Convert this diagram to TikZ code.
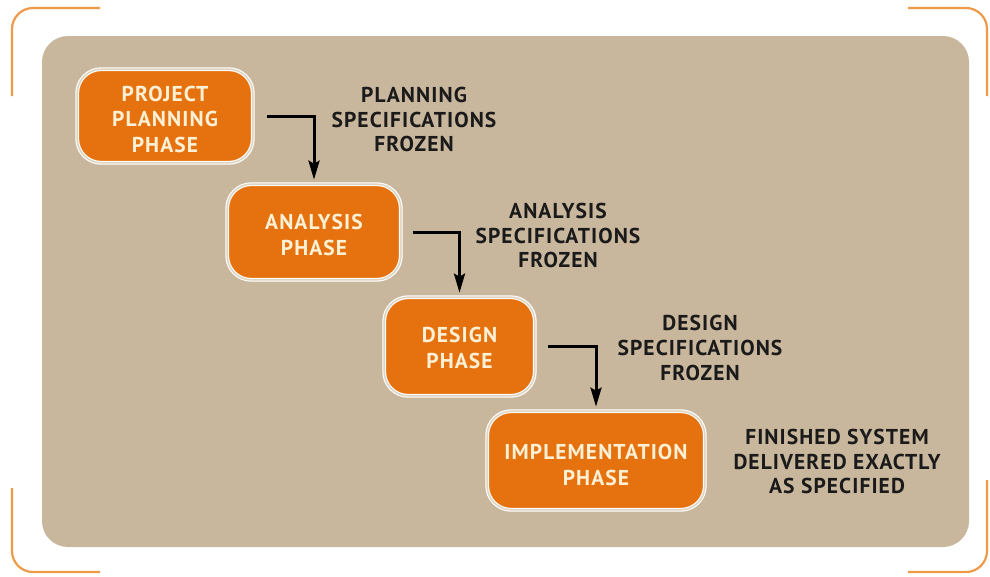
\documentclass[tikz,border=0pt]{standalone}
\usepackage{fontspec}
\setmainfont{PT Sans}
\newfontfamily\trackfont{PT Sans}[LetterSpace=5]
\usetikzlibrary{arrows.meta}
\definecolor{tanbg}{HTML}{C8B79C}
\definecolor{phaseorange}{HTML}{E5720E}
\definecolor{framecol}{HTML}{EE9A48}
\definecolor{creamtxt}{HTML}{FDF0D5}
\definecolor{labeltxt}{HTML}{1A1A1A}
\tikzset{
  phasebox/.style={draw=white, double=tanbg!60!white, double distance=1.6pt, line width=1.1pt,
    fill=phaseorange, rounded corners=24pt, inner sep=0pt},
  phasetext/.style={text=creamtxt, inner sep=0pt,
    font=\trackfont\bfseries\fontsize{21.5}{25.5}\selectfont, align=center},
  speclabel/.style={text=labeltxt, font=\trackfont\bfseries\fontsize{21.5}{24.8}\selectfont, align=center, inner sep=0pt},
  flowarrow/.style={draw=black, line width=3pt, -{Stealth[length=19pt,width=11pt,inset=3pt]}, shorten >=4pt},
  framebracket/.style={draw=framecol, line width=2.2pt, rounded corners=21pt}
}
\begin{document}
\begin{tikzpicture}[x=1pt,y=-1pt]
\useasboundingbox (0,0) rectangle (990,576);
\fill[white] (0,0) rectangle (990,576);
% frame brackets
\draw[framebracket] (100,8) -| (12,96);
\draw[framebracket] (908,8) -| (987,96);
\draw[framebracket] (12,488) |- (100,572);
\draw[framebracket] (987,480) |- (908,572);
% panel
\fill[tanbg, rounded corners=26pt] (42,36) rectangle (969,547);
% boxes
\node[phasebox, minimum width=175.6pt, minimum height=93.6pt] (b1) at (165,116) {};
\node[phasebox, minimum width=173.6pt, minimum height=95.6pt] (b2) at (314,232) {};
\node[phasebox, minimum width=150.6pt, minimum height=98.6pt] (b3) at (459.5,346.5) {};
\node[phasebox, minimum width=217.6pt, minimum height=98.6pt] (b4) at (596,460.5) {};
\node[phasetext] (t1) at ([yshift=-3pt]b1.center) {PROJECT\\PLANNING\\PHASE};
\node[phasetext] (t2) at ([yshift=-3pt]b2.center) {ANALYSIS\\PHASE};
\node[phasetext] (t3) at ([yshift=-1.5pt]b3.center) {DESIGN\\PHASE};
\node[phasetext] (t4) at ([yshift=-4.5pt]b4.center) {IMPLEMENTATION\\PHASE};
% labels
\node[speclabel] (l1) at (414,119.5) {PLANNING\\SPECIFICATIONS\\FROZEN};
\node[speclabel] (l2) at (558,235.5) {ANALYSIS\\SPECIFICATIONS\\FROZEN};
\node[speclabel] (l3) at (700,348) {DESIGN\\SPECIFICATIONS\\FROZEN};
\node[speclabel] (l4) at (837,461.5) {FINISHED SYSTEM\\DELIVERED EXACTLY\\AS SPECIFIED};
% arrows
\draw[flowarrow] ([xshift=14pt]b1.east) -| (b2.north);
\draw[flowarrow] ([xshift=12pt]b2.east) -| (b3.north);
\draw[flowarrow] ([xshift=13pt]b3.east) -| (b4.north);
\end{tikzpicture}
\end{document}
